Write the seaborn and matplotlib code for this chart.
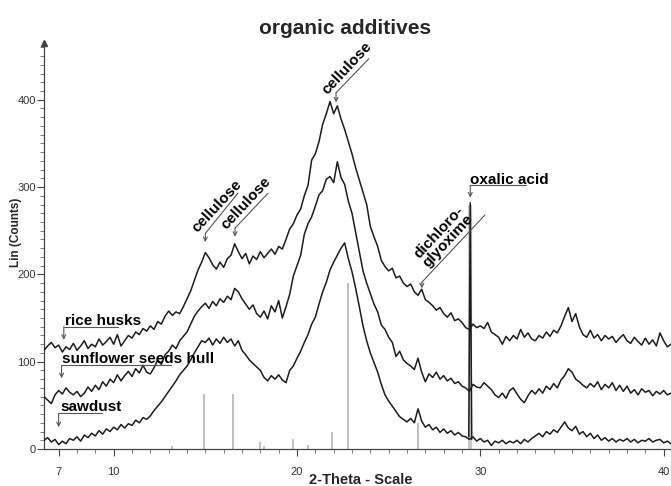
import numpy as np
import pandas as pd
import matplotlib
matplotlib.use('Agg')
import matplotlib.pyplot as plt
import seaborn as sns

# scan grid: 6.2 .. 40.4 deg, 0.2 deg step
two_theta = np.round(np.arange(6.2, 40.41, 0.2), 1)

rice_husks = [
    113, 118, 122, 116,
    119, 111, 117, 114, 121,
    113, 118, 124, 115, 120,
    117, 126, 119, 123, 128,
    120, 131, 118, 124, 130,
    127, 134, 131, 138, 135,
    141, 137, 146, 143, 152,
    158, 153, 157, 155, 163,
    172, 181, 193, 205, 214,
    225, 219, 211, 206, 214,
    208, 218, 222, 235, 226,
    218, 224, 212, 221, 217,
    226, 219, 224, 229, 223,
    232, 229, 240, 252, 258,
    268, 275, 290, 302, 331,
    338, 352, 372, 384, 398,
    384, 393, 378, 366, 352,
    338, 322, 308, 294, 280,
    255, 243, 232, 216, 209,
    204, 207, 196, 198, 190,
    186, 189, 180, 176, 183,
    171, 168, 164, 159, 162,
    155, 151, 156, 147, 149,
    145, 139, 137, 143, 139,
    141, 138, 145, 134, 131,
    128, 120, 129, 124, 130,
    126, 137, 128, 133, 126,
    124, 130, 127, 134, 129,
    136, 133, 141, 152, 162,
    146, 155, 140, 131, 128,
    136, 127, 131, 124, 130,
    126, 129, 122, 127, 131,
    124, 121, 128, 123, 119,
    127, 120, 125, 118, 133,
    124, 117, 120,
]

sunflower_hull = [
    60, 56, 52, 62,
    67, 63, 70, 65, 62,
    66, 60, 64, 71, 66,
    73, 68, 77, 72, 80,
    76, 85, 78, 84, 89,
    83, 92, 87, 96, 88,
    86, 93, 102, 97, 108,
    112, 119, 115, 124, 129,
    134, 143, 152, 158, 163,
    167, 161, 169, 164, 172,
    168, 175, 171, 184, 180,
    172, 166, 160, 165, 155,
    151, 158, 149, 164, 157,
    170, 150, 163, 177, 198,
    210, 222, 246, 258, 266,
    278, 291, 296, 309, 312,
    305, 329, 311, 303, 284,
    270, 248, 226, 204, 190,
    178, 166, 157, 142, 137,
    128, 122, 106, 112, 102,
    98, 95, 91, 104, 88,
    77, 86, 82, 88, 80,
    84, 78, 81, 75, 77,
    72, 70, 66, 74, 71,
    70, 76, 72, 68, 62,
    59, 64, 58, 67, 70,
    63, 57, 53, 61, 67,
    63, 69, 64, 72, 68,
    75, 70, 79, 84, 92,
    88, 80, 77, 73, 70,
    75, 71, 77, 68, 74,
    70, 76, 67, 73, 66,
    72, 64, 68, 62, 69,
    65, 67, 61, 66, 63,
    67, 62, 64,
]

sawdust = [
    10, 13, 8, 11,
    5, 9, 6, 12, 10,
    14, 9, 16, 13, 18,
    15, 21, 17, 23, 20,
    25, 22, 28, 24, 29,
    27, 33, 30, 36, 34,
    38, 44, 49, 54, 60,
    66, 72, 78, 85, 90,
    95, 102, 110, 117, 124,
    122, 127, 119, 126, 121,
    128, 122, 126, 118, 124,
    113, 108, 102, 98, 94,
    90, 82, 78, 84, 80,
    85, 79, 76, 90, 95,
    104, 112, 122, 131, 143,
    151, 166, 180, 191, 205,
    214, 222, 230, 236, 218,
    203, 184, 163, 141, 124,
    110, 99, 88, 74, 62,
    55, 49, 43, 37, 34,
    31, 35, 30, 46, 32,
    25, 28, 22, 25, 19,
    23, 18, 21, 16, 19,
    15, 14, 11, 14, 9,
    12, 8, 10, 4, 9,
    7, 10, 6, 9, 7,
    10, 6, 11, 8, 12,
    15, 18, 14, 20, 17,
    22, 19, 25, 31, 24,
    21, 26, 17, 20, 14,
    18, 12, 16, 10, 13,
    9, 12, 8, 11, 9,
    12, 8, 11, 7, 10,
    9, 12, 8, 10, 11,
    7, 9, 6,
]

# sharp oxalic acid reflection
oxalic_theta = [29.37, 29.45, 29.53]
oxalic_counts = [14, 282, 11]

# reference stick pattern (grey)
ref_theta = [13.2, 14.9, 16.5, 18.0, 18.2, 19.8, 20.6, 21.9, 22.8, 26.6, 29.45]
ref_counts = [3, 63, 63, 8, 4, 12, 5, 20, 190, 30, 280]

sns.set_style('ticks')
plt.rcParams['font.family'] = ['Liberation Sans', 'DejaVu Sans']

LINE = '#1c1c1c'
ANN = '#555555'

fig = plt.figure(figsize=(6.71, 4.86), dpi=100)
ax = fig.add_axes([44 / 671, 37 / 486, 627 / 671, 406 / 486])

# grey reference sticks behind the scans
ax.vlines(ref_theta[:-1], 0, ref_counts[:-1], color='#b4b4b4', lw=1.2, zorder=1)
ax.vlines(ref_theta[-1], 0, ref_counts[-1], color='#c8c8c8', lw=3.0, zorder=1)

df = pd.concat([
    pd.DataFrame({'two_theta': two_theta, 'counts': rice_husks, 'sample': 'rice husks'}),
    pd.DataFrame({'two_theta': two_theta, 'counts': sunflower_hull, 'sample': 'sunflower seeds hull'}),
    pd.DataFrame({'two_theta': two_theta, 'counts': sawdust, 'sample': 'sawdust'}),
])
sns.lineplot(data=df, x='two_theta', y='counts', hue='sample',
             palette={'rice husks': LINE, 'sunflower seeds hull': LINE, 'sawdust': LINE},
             estimator=None, sort=False, legend=False, lw=1.1, ax=ax, zorder=3)
sns.lineplot(x=oxalic_theta, y=oxalic_counts, color=LINE, lw=1.1, ax=ax, zorder=3)

ax.set_xlim(6.2, 40.4)
ax.set_ylim(0, 465)
ax.set_xticks([7, 10, 20, 30, 40])
ax.set_xticks(np.arange(7, 41, 1), minor=True)
ax.set_yticks([0, 100, 200, 300, 400])
ax.set_yticks(np.arange(0, 461, 10), minor=True)
ax.tick_params(axis='both', which='major', length=5, width=0.8, color='#444444',
               labelsize=8, labelcolor='#333333')
ax.tick_params(axis='both', which='minor', length=3, width=0.6, color='#666666')
ax.tick_params(axis='x', pad=8)
ax.tick_params(axis='y', pad=1)
sns.despine(ax=ax)
for s in ('left', 'bottom'):
    ax.spines[s].set_color('#444444')
    ax.spines[s].set_linewidth(0.9)
ax.plot(0, 1, marker='^', ms=4, color='#444444', transform=ax.transAxes, clip_on=False)
ax.set_xlabel('')
ax.set_ylabel('')

arrow = dict(arrowstyle='->', lw=0.8, color=ANN, shrinkA=0, shrinkB=0, mutation_scale=7)
bold = dict(fontweight='bold', fontsize=11, color='black')


def tag_flat(label, x_txt, y_base, x0, x1, y_line, y_tip):
    ax.text(x_txt, y_base, label, ha='left', va='baseline', zorder=5, **bold)
    ax.plot([x0, x1], [y_line, y_line], color=ANN, lw=0.8, zorder=4)
    ax.annotate('', xy=(x0, y_tip), xytext=(x0, y_line), arrowprops=arrow)


def tag_diag(label, x0, y_tip, y_top, x1, y1, rot=47):
    ax.annotate('', xy=(x0, y_tip), xytext=(x0, y_top), arrowprops=arrow)
    ax.plot([x0, x1], [y_top, y1], color=ANN, lw=0.8, zorder=4)
    ax.text((x0 + x1) / 2, (y_top + y1) / 2 + 3, label, rotation=rot, rotation_mode='anchor',
            ha='center', va='bottom', zorder=5, linespacing=0.95, **bold)


tag_flat('rice husks', 7.36, 142, 7.28, 10.25, 140, 125)
tag_flat('sunflower seeds hull', 7.2, 99, 7.16, 13.13, 96, 81)
tag_flat('sawdust', 7.08, 43, 7.0, 9.37, 41, 25)

tag_diag('cellulose', 15.0, 237, 247, 16.78, 293)
tag_diag('cellulose', 16.62, 243, 253, 18.42, 293)
tag_diag('cellulose', 22.13, 397, 408, 23.92, 447)
tag_diag('dichloro-\nglyoxime', 26.81, 184, 191, 30.25, 268)

ax.text(29.45, 304, 'oxalic acid', ha='left', va='baseline', zorder=5, **bold)
ax.plot([29.45, 32.5], [302, 302], color=ANN, lw=0.8)
ax.annotate('', xy=(29.45, 288), xytext=(29.45, 302), arrowprops=arrow)

fig.text(345 / 671, 1 - 34 / 486, 'organic additives', ha='center', va='baseline',
         fontsize=15, fontweight='bold')
fig.text(361 / 671, 1 - 484 / 486, '2-Theta - Scale', ha='center', va='baseline',
         fontsize=10.5, fontweight='bold')
fig.text(16 / 671, 1 - 232 / 486, 'Lin (Counts)', ha='center', va='center', rotation=90,
         fontsize=8.5, fontweight='bold')

fig.savefig('out.png', dpi=100)
